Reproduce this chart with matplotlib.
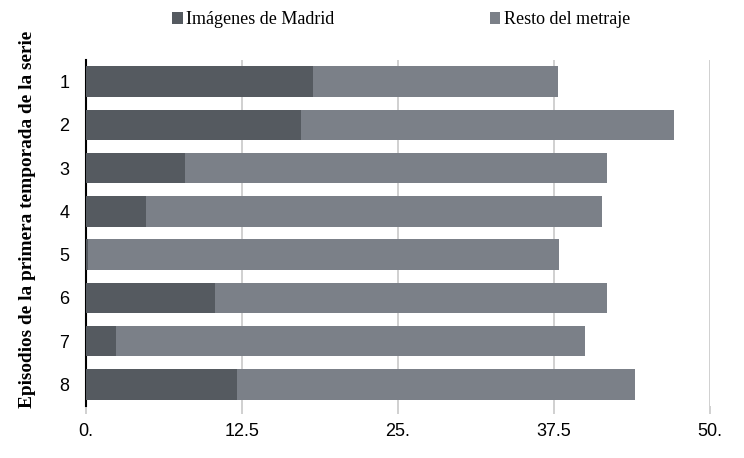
import matplotlib.pyplot as plt
from matplotlib.ticker import FixedLocator

episodes = ["1", "2", "3", "4", "5", "6", "7", "8"]
madrid = [18.2, 17.2, 7.9, 4.8, 0.15, 10.3, 2.4, 12.1]
resto = [19.6, 29.9, 33.9, 36.6, 37.75, 31.5, 37.6, 31.9]
x_ticks = [0, 12.5, 25, 37.5, 50]
x_labels = ["0.", "12.5", "25.", "37.5", "50."]

tick_font = 'Liberation Sans'

fig = plt.figure(figsize=(7.44, 4.58), dpi=100)
ax = fig.add_axes([0.1156, 0.1135, 0.8384, 0.7555])

y = range(len(episodes))
ax.barh(y, madrid, height=0.7, color='#555a60', label="Imágenes de Madrid", zorder=3)
ax.barh(y, resto, left=madrid, height=0.7, color='#7b8088', label="Resto del metraje", zorder=3)

ax.set_xlim(0, 50)
ax.set_ylim(len(episodes) - 0.5, -0.5)
ax.set_yticks(list(y))
ax.set_yticklabels(episodes, fontsize=13, family=tick_font)
ax.xaxis.set_major_locator(FixedLocator(x_ticks))
ax.set_xticklabels(x_labels, fontsize=13, family=tick_font)

ax.grid(axis='x', color='#c8c8c8', linewidth=1.2, zorder=0)
for s in ['top', 'right', 'bottom']:
    ax.spines[s].set_visible(False)
ax.spines['left'].set_linewidth(1.5)
ax.tick_params(axis='y', length=0, pad=12)
ax.tick_params(axis='x', length=6, color='#c8c8c8', width=1.2, pad=6)

ax.set_ylabel("Episodios de la primera temporada de la serie", fontsize=13.9,
              fontweight='bold', family='Liberation Serif')
ax.yaxis.set_label_coords(-0.080, 0.538)

ax.legend(loc='lower center', bbox_to_anchor=(0.505, 1.045), ncol=2, frameon=False,
          prop={'family': 'Liberation Serif', 'size': 13}, handlelength=0.6,
          handleheight=0.6, handletextpad=0.2, columnspacing=8.6)

fig.savefig("out.png", dpi=100)
